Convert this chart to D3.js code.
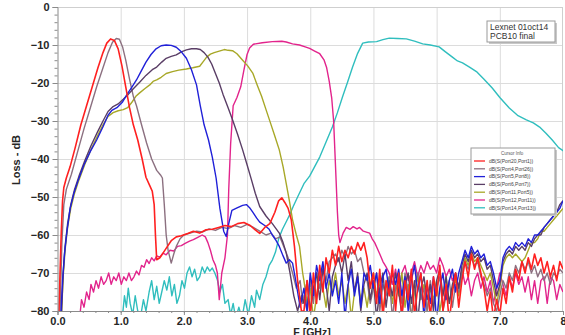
<!DOCTYPE html>
<html>
<head>
<meta charset="utf-8">
<script src="https://cdn.jsdelivr.net/npm/d3@7"></script>
<style>
body { margin: 0; background: #fff; }
svg { font-family: "Liberation Sans", Arial, sans-serif; }
</style>
</head>
<body>
<svg id="svgLossPlot"></svg>
<script>
var outerWidth = 565, outerHeight = 335
var plotLeft = 57.5, plotRight = 563, plotTop = 7, plotBottom = 311

var xTicks = [0, 1, 2, 3, 4, 5, 6, 7, 8]
var xTickLabels = ["0.0", "1.0", "2.0", "3.0", "4.0", "5.0", "6.0", "7.0", "8"]
var yTicks = [0, -10, -20, -30, -40, -50, -60, -70, -80]

var seriesNames = ["dB(S(Port20,Port1))", "dB(S(Port4,Port26))", "dB(S(Port5,Port8))",
                   "dB(S(Port6,Port7))", "dB(S(Port11,Port5))", "dB(S(Port12,Port11))",
                   "dB(S(Port14,Port13))"]
var seriesColors = ["#ff2020", "#8c7080", "#2020d8", "#5a3e66", "#a8a828", "#e2248c", "#30bebe"]

// frequency grid of the noisy floor (GHz)
var noiseFreq = [3.90,3.95,4.00,4.05,4.10,4.15,4.20,4.25,4.30,4.35,
                 4.40,4.45,4.50,4.55,4.60,4.65,4.70,4.75,4.80,4.85,
                 4.90,4.95,5.00,5.05,5.10,5.15,5.20,5.25,5.30,5.35,
                 5.40,5.45,5.50,5.55,5.60,5.65,5.70,5.75,5.80,5.85,
                 5.90,5.95,6.00,6.05,6.10,6.15,6.20,6.25,6.30,6.35,
                 6.40,6.45,6.50,6.55,6.60,6.65,6.70,6.75,6.80,6.85,
                 6.90,6.95,7.00,7.05,7.10,7.15,7.20,7.25,7.30,7.35,
                 7.40,7.45,7.50,7.55,7.60,7.65,7.70,7.75,7.80,7.85,
                 7.90,7.95,8.00]

// [GHz, dB]
var redMain = [[0.02,-82],[0.04,-70],[0.06,-59],[0.08,-51],[0.1,-47.5],[0.14,-45],[0.2,-42],[0.28,-37],
  [0.37,-31],[0.46,-26],[0.55,-21],[0.64,-16],[0.72,-12],[0.78,-9.5],[0.84,-8.4],[0.9,-8.8],[0.96,-11],
  [1.02,-15.5],[1.08,-21],[1.14,-26.5],[1.2,-31],[1.27,-35],[1.34,-40],[1.4,-44.8],[1.46,-47],[1.5,-48.5],
  [1.53,-52],[1.55,-60],[1.57,-66.5],[1.62,-66],[1.68,-64.5],[1.74,-63],[1.8,-61.5],[1.88,-60.5],[1.96,-60.2],
  [2.06,-59.6],[2.15,-59],[2.25,-59.5],[2.35,-58.6],[2.45,-58.5],[2.55,-58],[2.65,-57.5],[2.75,-57.8],
  [2.85,-57],[2.95,-56.7],[3.05,-57.5],[3.12,-58.5],[3.2,-59.6],[3.28,-58],[3.36,-57],[3.44,-54],[3.5,-51],
  [3.55,-50.2],[3.6,-51.5],[3.65,-53],[3.7,-56],[3.75,-63],[3.8,-72],[3.86,-80]]
var redNoise = [-80,-72,-82,-70,-78,-68,-75,-66,-70,-64,
  -68,-63,-67,-64,-66,-63,-65,-62,-64,-62,
  -66,-74,-70,-78,-69,-82,-72,-76,-68,-80,
  -70,-82,-72,-77,-69,-81,-74,-70,-79,-72,
  -82,-71,-76,-68,-80,-73,-83,-75,-70,-79,
  -72,-67,-71,-65,-69,-66,-70,-74,-80,-75,
  -82,-77,-81,-74,-78,-71,-75,-69,-72,-67,
  -70,-66,-69,-65,-68,-66,-70,-67,-71,-68,
  -72,-67,-69]

var mauveMain = [[0.04,-80],[0.07,-62],[0.1,-52],[0.14,-48],[0.22,-44],[0.32,-38],[0.42,-32],[0.52,-26.5],
  [0.62,-21],[0.72,-16],[0.8,-12],[0.87,-9.3],[0.93,-8.3],[0.98,-8.5],[1.03,-10.5],[1.08,-14],[1.14,-19],
  [1.2,-23.5],[1.25,-26],[1.33,-31],[1.41,-35.8],[1.49,-40],[1.57,-43],[1.63,-44.2],[1.66,-45],[1.69,-52],
  [1.72,-60],[1.75,-64],[1.8,-67.4],[1.84,-65],[1.88,-63],[1.94,-61],[2.0,-60],[2.1,-59.5],[2.2,-59],
  [2.3,-59.2],[2.4,-58.4],[2.5,-58.8],[2.6,-58],[2.7,-58.3],[2.8,-57.5],[2.9,-58],[3.0,-57.2],[3.1,-58],
  [3.2,-59],[3.3,-60],[3.38,-59.5],[3.45,-61],[3.52,-60.5],[3.58,-63],[3.65,-66],[3.72,-70],[3.78,-74],
  [3.84,-72],[3.88,-78]]
var mauveNoise = [-76,-80,-72,-78,-70,-74,-68,-72,-67,-66,
  -65,-67,-64,-66,-63,-65,-64,-67,-66,-70,
  -72,-78,-74,-70,-80,-73,-76,-71,-82,-74,
  -72,-78,-70,-75,-82,-73,-70,-77,-74,-80,
  -72,-78,-74,-71,-80,-76,-72,-79,-73,-75,
  -70,-67,-69,-66,-68,-67,-71,-73,-76,-74,
  -78,-80,-76,-72,-74,-70,-72,-68,-70,-67,
  -69,-67,-70,-68,-71,-69,-72,-70,-73,-70,
  -71,-69,-70]

var blueMain = [[0.05,-82],[0.08,-72],[0.11,-65],[0.15,-59],[0.2,-53],[0.26,-49],[0.33,-45.5],[0.42,-41.5],
  [0.52,-38],[0.62,-35],[0.72,-31.5],[0.8,-28.5],[0.86,-27.2],[0.94,-26.5],[1.03,-25],[1.1,-23],[1.18,-21],
  [1.25,-19.2],[1.32,-17],[1.4,-14.5],[1.48,-12.5],[1.56,-11],[1.64,-10.2],[1.72,-10],[1.8,-10.1],
  [1.88,-10.6],[1.96,-11.8],[2.04,-13.5],[2.12,-16.5],[2.2,-20.5],[2.26,-26],[2.32,-31],[2.39,-35],
  [2.45,-39.5],[2.51,-45],[2.57,-53],[2.63,-59],[2.67,-60.4],[2.71,-57],[2.76,-53.5],[2.85,-52.8],
  [2.93,-52.2],[2.99,-52],[3.04,-52.8],[3.09,-54],[3.15,-55.5],[3.2,-56.6],[3.28,-57.5],[3.35,-58.5],
  [3.4,-60],[3.46,-61.5],[3.51,-63],[3.57,-65.5],[3.62,-67.4],[3.67,-66.5],[3.72,-67.4],[3.76,-71],
  [3.8,-75],[3.84,-79]]
var blueNoise = [-74,-80,-70,-76,-68,-72,-67,-74,-70,-76,
  -72,-78,-70,-82,-73,-69,-76,-71,-79,-70,
  -72,-68,-74,-70,-78,-71,-69,-75,-70,-73,
  -69,-76,-71,-80,-72,-68,-75,-70,-82,-73,
  -78,-71,-83,-74,-70,-77,-72,-69,-75,-70,
  -67,-64,-66,-63,-65,-64,-66,-65,-68,-67,
  -70,-74,-72,-66,-64,-63,-64,-62,-63,-62,
  -63,-61,-62,-60,-60,-59,-58,-57,-56,-55,
  -54,-53,-51]

var purpleMain = [[0.06,-82],[0.09,-70],[0.12,-63],[0.16,-57],[0.21,-52],[0.27,-48],[0.34,-44.5],[0.43,-40.5],
  [0.53,-36.5],[0.63,-33],[0.72,-30],[0.8,-27.5],[0.88,-26.2],[0.96,-25.5],[1.04,-24.3],[1.12,-23],
  [1.2,-21.5],[1.3,-19.8],[1.4,-18],[1.5,-16.5],[1.57,-15.8],[1.65,-14.5],[1.72,-13.5],[1.8,-13],
  [1.88,-12.6],[1.96,-11.8],[2.04,-11.3],[2.12,-11],[2.2,-11],[2.26,-11.2],[2.32,-12],[2.38,-13.2],
  [2.44,-15],[2.5,-17.5],[2.56,-20],[2.62,-23],[2.7,-26.5],[2.77,-29.7],[2.85,-33.5],[2.93,-37.6],
  [3.0,-41.5],[3.07,-45.5],[3.13,-49],[3.2,-52.5],[3.3,-55],[3.4,-57],[3.51,-59.5],[3.57,-62],
  [3.62,-64.7],[3.68,-70],[3.74,-76],[3.8,-80],[3.86,-76]]
var purpleNoise = [-78,-72,-80,-74,-70,-77,-69,-73,-80,-71,
  -68,-66,-70,-65,-72,-67,-75,-70,-80,-73,
  -70,-77,-72,-82,-74,-70,-79,-72,-76,-70,
  -75,-81,-73,-70,-78,-72,-83,-74,-71,-77,
  -73,-80,-72,-69,-76,-71,-78,-73,-70,-74,
  -68,-65,-67,-64,-66,-65,-67,-66,-69,-68,
  -72,-76,-73,-67,-65,-64,-65,-63,-64,-63,
  -64,-62,-63,-61,-60,-60,-58,-57,-56,-55,
  -54,-52,-51]

var oliveMain = [[0.06,-82],[0.09,-71],[0.12,-64],[0.16,-58],[0.21,-53],[0.27,-49],[0.34,-45.5],[0.43,-41.5],
  [0.53,-37.5],[0.63,-34],[0.72,-31],[0.8,-28.8],[0.88,-27.8],[0.96,-27.3],[1.04,-27],[1.11,-26.5],
  [1.18,-25],[1.24,-23.5],[1.3,-22.6],[1.38,-21.5],[1.46,-20.5],[1.52,-19.5],[1.57,-19.2],[1.64,-18.5],
  [1.72,-17.5],[1.82,-17],[1.92,-16.6],[2.04,-16.3],[2.14,-16],[2.25,-15.6],[2.3,-14.5],[2.36,-13.2],
  [2.42,-12.4],[2.48,-12],[2.56,-11.6],[2.64,-11.2],[2.7,-11.4],[2.77,-11.5],[2.84,-12.3],[2.93,-14],
  [3.01,-15.5],[3.09,-17.4],[3.16,-20.5],[3.23,-23.5],[3.3,-27],[3.37,-30.5],[3.44,-34],[3.51,-37.6],
  [3.57,-42],[3.62,-46.5],[3.67,-51],[3.72,-56],[3.78,-60],[3.83,-63],[3.88,-70]]
var oliveNoise = [-72,-78,-74,-82,-76,-70,-74,-79,-72,-75,
  -70,-76,-72,-78,-73,-82,-75,-71,-77,-74,
  -79,-73,-70,-76,-72,-80,-74,-71,-78,-73,
  -76,-70,-79,-73,-82,-75,-71,-77,-73,-80,
  -74,-77,-72,-80,-75,-71,-78,-74,-72,-76,
  -70,-66,-68,-65,-67,-66,-68,-70,-72,-70,
  -74,-78,-74,-68,-66,-65,-66,-65,-66,-67,
  -66,-64,-62,-62,-61,-59,-59,-58,-57,-56,
  -55,-54,-53]

var magentaMain = [[0.35,-82],[0.38,-77],[0.42,-79],[0.46,-75],[0.5,-77],[0.53,-73],[0.57,-75],[0.61,-72],
  [0.65,-74],[0.69,-71],[0.73,-73],[0.77,-72],[0.81,-70],[0.85,-73],[0.89,-71],[0.93,-72],[0.97,-70],
  [1.01,-73],[1.05,-71],[1.09,-72],[1.13,-70],[1.17,-72],[1.21,-71],[1.25,-69.5],[1.29,-70.5],[1.33,-68],
  [1.37,-68.5],[1.41,-66.5],[1.45,-67.5],[1.49,-66],[1.53,-66.8],[1.57,-65.5],[1.62,-65.8],[1.67,-64.8],
  [1.72,-65.2],[1.78,-64],[1.84,-64.2],[1.9,-63],[1.96,-62.8],[2.02,-62.2],[2.09,-61.6],[2.15,-61.2],
  [2.22,-60.6],[2.29,-60],[2.34,-60.5],[2.38,-62],[2.42,-64],[2.46,-66.5],[2.5,-68],[2.53,-70],[2.56,-77],
  [2.6,-70],[2.65,-66],[2.69,-60],[2.71,-48],[2.74,-36],[2.78,-26],[2.84,-23.8],[2.9,-21],[2.95,-16.6],
  [3.0,-12.5],[3.04,-10.8],[3.1,-9.8],[3.24,-9.4],[3.4,-9.1],[3.55,-9.0],[3.62,-9.2],[3.72,-9.7],
  [3.83,-10],[3.92,-10.5],[3.99,-10.9],[4.07,-11.6],[4.15,-12.3],[4.22,-14],[4.26,-16],[4.3,-19.5],
  [4.34,-24],[4.37,-30],[4.39,-38],[4.41,-46],[4.43,-54],[4.45,-60],[4.47,-62],[4.52,-59.5],[4.57,-58],
  [4.63,-58.5],[4.68,-57.8],[4.74,-58.4],[4.78,-58],[4.84,-59],[4.9,-59.3],[4.94,-59.5],[4.98,-61],
  [5.02,-62],[5.06,-63.5],[5.1,-65],[5.15,-67],[5.2,-68.4]]
var magentaNoise = [-70,-73,-69,-75,-70,-68,-72,-70,-67,-71,
  -68,-70,-67,-69,-68,-70,-66,-68,-71,-69,
  -72,-70,-74,-69,-73,-71,-76,-72,-70,-74,
  -71,-75,-72,-78,-74,-70,-73,-76,-71,-74,
  -70,-73,-71,-75,-71,-77,-72,-78,-72,-71,
  -78,-71,-72,-77,-73,-75]

var cyanMain = [[1.03,-81],[1.06,-76],[1.09,-79],[1.12,-74],[1.15,-78],[1.19,-81],[1.23,-76],[1.27,-80],
  [1.31,-82],[1.36,-77],[1.4,-80],[1.45,-75],[1.49,-72],[1.53,-77],[1.57,-73.5],[1.61,-78],[1.65,-75],
  [1.69,-72],[1.73,-74.5],[1.77,-71],[1.81,-76],[1.85,-73],[1.89,-78],[1.93,-76],[1.97,-72],[2.01,-74],
  [2.05,-70],[2.09,-68.4],[2.13,-71],[2.17,-69],[2.21,-72],[2.25,-71],[2.29,-68.4],[2.33,-70],[2.37,-68.4],
  [2.41,-69.5],[2.45,-68.7],[2.49,-70],[2.53,-71.8],[2.57,-75],[2.61,-73],[2.65,-78],[2.7,-77],[2.74,-81],
  [2.78,-78],[2.82,-82],[2.87,-79],[2.92,-82],[2.97,-77],[3.02,-81],[3.07,-76],[3.12,-79],[3.15,-74.5],
  [3.2,-77],[3.25,-73],[3.3,-71],[3.35,-68],[3.4,-66.6],[3.45,-64.5],[3.5,-61],[3.56,-58.5],[3.62,-56.5],
  [3.68,-54.5],[3.73,-52.5],[3.8,-50],[3.9,-46.5],[3.99,-44.5],[4.07,-42],[4.15,-39.5],[4.25,-35.5],
  [4.35,-31.6],[4.43,-27.8],[4.51,-23.7],[4.59,-19.8],[4.67,-15.8],[4.75,-12.2],[4.83,-9.5],[4.92,-9.2],
  [5.05,-9.1],[5.15,-8.6],[5.25,-8.2],[5.38,-8.3],[5.52,-8.4],[5.65,-9],[5.78,-9.7],[5.9,-10],[6.04,-10.5],
  [6.14,-11.8],[6.25,-13.2],[6.33,-14.2],[6.41,-14.7],[6.52,-15.8],[6.63,-17],[6.75,-19],[6.88,-21.3],
  [7.0,-23.8],[7.15,-26.6],[7.28,-28.5],[7.42,-29.7],[7.53,-30.5],[7.63,-31.6],[7.73,-33.2],[7.83,-35],
  [7.93,-37],[8.02,-38]]

function buildSeries(main, noise, freqs) {
    var pts = main.map(function(p) { return { f: p[0], db: p[1] } })
    noise.forEach(function(v, i) { pts.push({ f: freqs[i], db: v }) })
    return pts
}

var series = [
    buildSeries(redMain, redNoise, noiseFreq),
    buildSeries(mauveMain, mauveNoise, noiseFreq),
    buildSeries(blueMain, blueNoise, noiseFreq),
    buildSeries(purpleMain, purpleNoise, noiseFreq),
    buildSeries(oliveMain, oliveNoise, noiseFreq),
    buildSeries(magentaMain, magentaNoise, noiseFreq.slice(27)),
    buildSeries(cyanMain, [], noiseFreq)
]
var drawOrder = [6, 5, 4, 1, 3, 2, 0]

var svg = d3.select("svg#svgLossPlot")
            .attr("width", outerWidth)
            .attr("height", outerHeight)

var xScale = d3.scaleLinear().domain([0, 8]).range([plotLeft, plotRight]),
    yScale = d3.scaleLinear().domain([-80, 0]).range([plotBottom, plotTop]);

svg.append("defs").append("clipPath").attr("id", "plotClip")
    .append("rect")
    .attr("x", plotLeft).attr("y", plotTop)
    .attr("width", plotRight - plotLeft).attr("height", plotBottom - plotTop)

// grid
svg.append("g").selectAll("line.hgrid")
    .data(yTicks.slice(1, -1))
    .enter().append("line")
    .attr("x1", plotLeft).attr("x2", plotRight)
    .attr("y1", function(d) { return yScale(d) + 0.5 })
    .attr("y2", function(d) { return yScale(d) + 0.5 })
    .attr("stroke", "#dcdcdc")
svg.append("g").selectAll("line.vgrid")
    .data(xTicks.slice(1, -1))
    .enter().append("line")
    .attr("y1", plotTop).attr("y2", plotBottom)
    .attr("x1", function(d) { return xScale(d) + 0.5 })
    .attr("x2", function(d) { return xScale(d) + 0.5 })
    .attr("stroke", "#dcdcdc")

// frame top / right
svg.append("line").attr("x1", plotLeft).attr("x2", plotRight).attr("y1", plotTop + 0.5).attr("y2", plotTop + 0.5)
    .attr("stroke", "#cfcfcf")
svg.append("line").attr("x1", plotRight - 0.5).attr("x2", plotRight - 0.5).attr("y1", plotTop).attr("y2", plotBottom)
    .attr("stroke", "#cfcfcf")

// curves
var line = d3.line()
    .x(function(d) { return xScale(d.f) })
    .y(function(d) { return yScale(d.db) })

svg.append("g").attr("clip-path", "url(#plotClip)")
    .selectAll("path")
    .data(drawOrder)
    .enter().append("path")
    .attr("d", function(k) { return line(series[k]) })
    .attr("fill", "none")
    .attr("stroke", function(k) { return seriesColors[k] })
    .attr("stroke-width", function(k) { return k == 0 ? 1.6 : 1.4 })
    .attr("stroke-linejoin", "round")

// axes
svg.append("g")
    .attr("transform", "translate(" + plotLeft + ",0)")
    .call(d3.axisLeft(yScale).tickValues(yTicks).tickFormat(d3.format("d")).tickSize(5).tickPadding(3))
svg.append("g")
    .attr("transform", "translate(" + plotLeft + ",0)")
    .call(d3.axisLeft(yScale).tickValues(d3.range(-80, 1, 2)).tickFormat("").tickSize(3))
    .select(".domain").remove()

svg.append("g")
    .attr("transform", "translate(0," + plotBottom + ")")
    .call(d3.axisBottom(xScale).tickValues(xTicks).tickFormat(function(d, i) { return xTickLabels[i] })
          .tickSize(4).tickPadding(2))
svg.append("g")
    .attr("transform", "translate(0," + plotBottom + ")")
    .call(d3.axisBottom(xScale).tickValues(d3.range(0, 8.01, 0.2)).tickFormat("").tickSize(2))
    .select(".domain").remove()

svg.selectAll(".domain").attr("stroke", "#8a8a8a")
svg.selectAll(".tick line").attr("stroke", "#8a8a8a")
svg.selectAll(".tick text")
    .attr("font-family", "'Liberation Sans', Arial, sans-serif")
    .attr("font-size", "11px")
    .attr("font-weight", "bold")
    .attr("fill", "#262626")

svg.append("text")
    .attr("transform", "translate(20," + 160 + ") rotate(-90)")
    .attr("text-anchor", "middle")
    .attr("font-size", "11px")
    .attr("font-weight", "bold")
    .attr("fill", "#262626")
    .text("Loss - dB")

svg.append("text")
    .attr("x", 312).attr("y", 335.5)
    .attr("text-anchor", "middle")
    .attr("font-size", "10.5px")
    .attr("font-weight", "bold")
    .attr("fill", "#262626")
    .text("F [GHz]")

// note box
var note = svg.append("g").attr("transform", "translate(487,21)")
note.append("rect").attr("x", 2).attr("y", 2).attr("width", 68).attr("height", 21).attr("fill", "#c8c8c8")
note.append("rect").attr("width", 68).attr("height", 21).attr("fill", "#fff").attr("stroke", "#9a9a9a")
note.append("text").attr("x", 3).attr("y", 9).attr("font-size", "8.5px").attr("fill", "#333").text("Lexnet 01oct14")
note.append("text").attr("x", 3).attr("y", 18).attr("font-size", "8.5px").attr("fill", "#333").text("PCB10 final")

// legend
var legend = svg.append("g").attr("transform", "translate(471,148)")
legend.append("rect").attr("x", 2).attr("y", 2).attr("width", 84).attr("height", 66).attr("fill", "#c8c8c8")
legend.append("rect").attr("width", 84).attr("height", 66).attr("fill", "#fff").attr("stroke", "#9a9a9a")
legend.append("text").attr("x", 30).attr("y", 7).attr("font-size", "4.5px").attr("fill", "#555").text("Cursor Info")
var rows = legend.selectAll("g.row")
    .data(seriesNames)
    .enter().append("g")
    .attr("transform", function(d, i) { return "translate(0," + (13 + i * 7.8) + ")" })
rows.append("line").attr("x1", 3).attr("x2", 14).attr("y1", 0).attr("y2", 0)
    .attr("stroke", function(d, i) { return seriesColors[i] }).attr("stroke-width", 1.3)
rows.append("text").attr("x", 18).attr("y", 1.8).attr("font-size", "5px").attr("fill", "#444")
    .text(function(d) { return d })
</script>
</body>
</html>
